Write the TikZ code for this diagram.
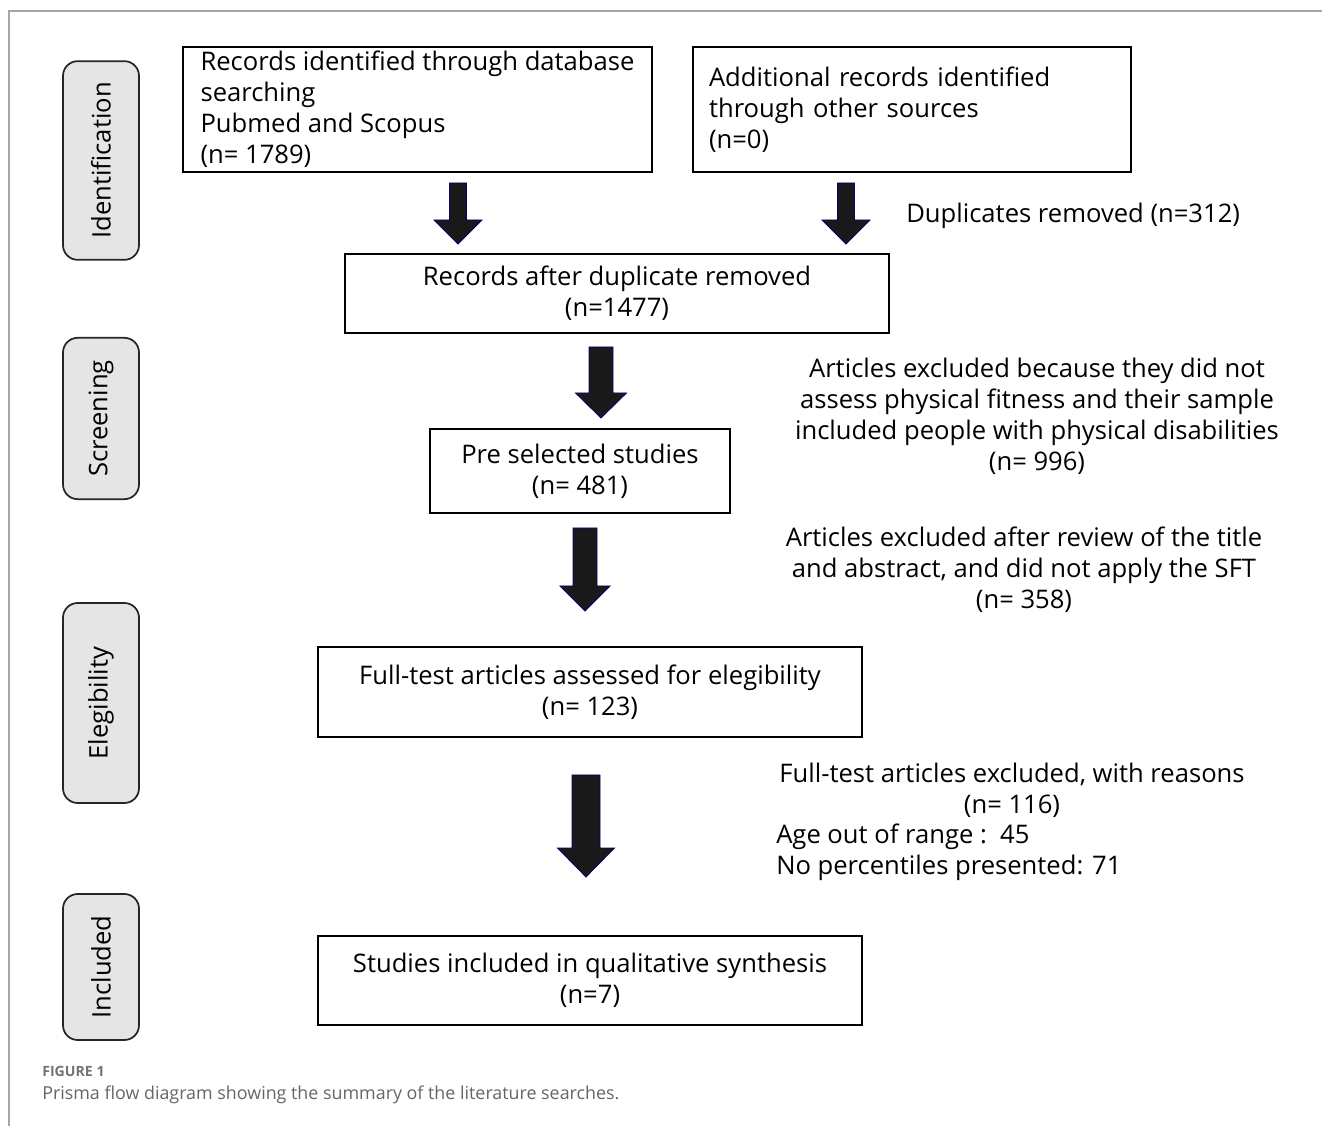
\documentclass[tikz,border=0pt]{standalone}
\usepackage{fontspec}
\setmainfont{Open Sans}
\begin{document}
\begin{tikzpicture}[x=0.75pt,y=-0.75pt,
  mainfont/.style={font=\fontsize{19.2}{23.25}\selectfont},
  box/.style={draw=black, line width=1.3pt, fill=white, inner sep=0pt, mainfont},
  phase/.style={draw=black!85, line width=1.3pt, fill=black!10, rounded corners=11pt, rotate=90, minimum height=57pt, inner sep=0pt, mainfont},
  note/.style={align=center, inner sep=0pt, mainfont},
  bigarrow/.style={fill=black!90, draw=blue!45!black, line width=0.6pt, line join=miter},
]
\useasboundingbox (0,0) rectangle (1322,1126);
\fill[white] (0,0) rectangle (1322,1126);
\draw[black!35, line width=1.2pt] (9,1126) -- (9,11) -- (1322,11);

% phase labels
\node[phase, minimum width=149pt] (pid) at (101,160.5) {Identification};
\node[phase, minimum width=121pt] (psc) at (101,418.5) {Screening};
\node[phase, minimum width=150pt] (pel) at (101,703) {Elegibility};
\node[phase, minimum width=109.5pt] (pin) at (101,967) {Included};

% boxes
\node[box, minimum width=351.75pt, minimum height=93.75pt, align=left] (db) at (417.5,109.5)
  {Records identified through database\\searching\\Pubmed and Scopus\\(n= 1789)};
\node[box, minimum width=328.5pt, minimum height=93.75pt, align=left, text width=304.5pt, inner xsep=12pt] (other) at (912,109.5)
  {Additional records identified\\through other sources\\(n=0)};
\node[box, minimum width=408pt, minimum height=59.25pt, align=center] (dup) at (617,293.5)
  {Records after duplicate removed\\(n=1477)};
\node[box, minimum width=225pt, minimum height=63pt, align=center] (pre) at (580,471)
  {Pre selected studies\\(n= 481)};
\node[box, minimum width=408pt, minimum height=67.5pt, align=center] (full) at (590,692)
  {Full-test articles assessed for elegibility\\(n= 123)};
\node[box, minimum width=408pt, minimum height=66.75pt, align=center] (incl) at (590,980.5)
  {Studies included in qualitative synthesis\\(n=7)};

% side notes
\node[note, anchor=west] (dupn) at (906,216) {Duplicates removed (n=312)};
\node[note] (ex1) at (1037,416)
  {Articles excluded because they did not\\assess physical fitness and their sample\\included people with physical disabilities\\(n= 996)};
\node[note] (ex2) at (1024,569.5)
  {Articles excluded after review of the title\\and abstract, and did not apply the SFT\\(n= 358)};
\node[note] (ex3) at (1012,790.5)
  {Full-test articles excluded, with reasons\\(n= 116)};
\node[note, anchor=west, align=left] (ex3r) at (776,852)
  {Age out of range :\ \ 45\\No percentiles presented: 71};

% block arrows
\newcommand{\blockarrow}[6]{% x, top, headstart, tip, shaft half, head half
  \filldraw[bigarrow] (#1-#5,#2) -- (#1+#5,#2) -- (#1+#5,#3) -- (#1+#6,#3) -- (#1,#4)
    -- (#1-#6,#3) -- (#1-#5,#3) -- cycle;}
\blockarrow{458}{183}{220}{244}{8.5}{24}
\blockarrow{846}{183}{220}{244}{8.5}{24}
\blockarrow{601}{347}{393}{418}{12}{25.5}
\blockarrow{585}{528}{586}{611}{12}{25}
\blockarrow{586}{775}{848}{877}{14}{28.5}

% caption
\node[anchor=west, inner sep=0pt, text=black!55, font=\fontsize{10.6}{12}\selectfont\bfseries] (figlab) at (42,1071) {FIGURE 1};
\node[anchor=west, inner sep=0pt, text=black!60, font=\fontsize{13.4}{15}\selectfont] (cap) at (42,1095) {Prisma flow diagram showing the summary of the literature searches.};
\end{tikzpicture}
\end{document}
